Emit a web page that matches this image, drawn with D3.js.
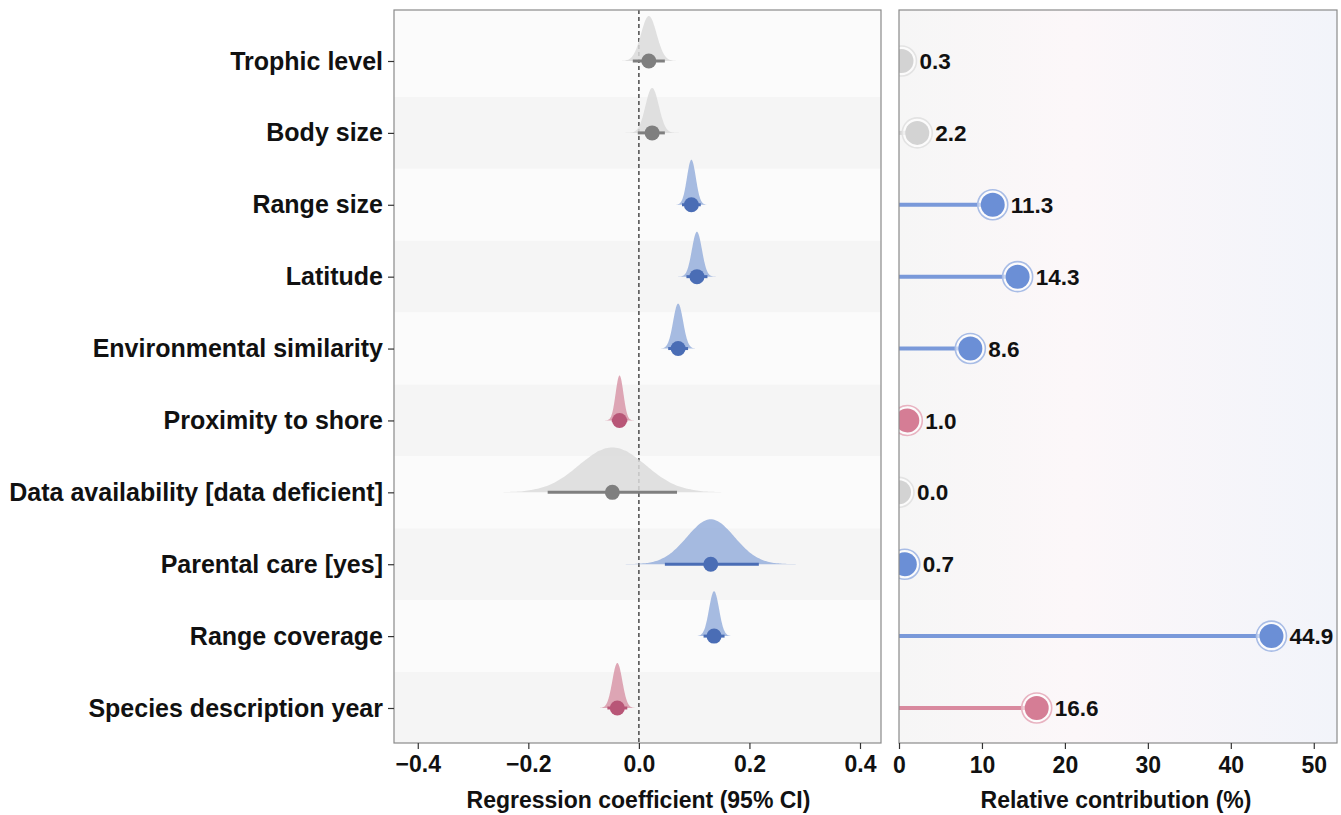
<!DOCTYPE html>
<meta charset="utf-8">
<script src="https://d3js.org/d3.v7.min.js"></script>
<style>
  body { margin: 0; background: #fff; }
  text { font-family: "Liberation Sans", Arial, sans-serif; font-weight: bold; }
</style>
<div id="chart"></div>
<script>

// predictors, top to bottom
var predictors = ["Trophic level", "Body size", "Range size", "Latitude",
  "Environmental similarity", "Proximity to shore", "Data availability [data deficient]",
  "Parental care [yes]", "Range coverage", "Species description year"];

// regression coefficient, 95% CI and sd of the posterior
var coef  = [0.018, 0.024, 0.095, 0.105, 0.071, -0.035, -0.048, 0.130, 0.136, -0.039];
var lower = [-0.011, -0.002, 0.078, 0.086, 0.053, -0.049, -0.165, 0.047, 0.117, -0.057];
var upper = [0.047, 0.047, 0.112, 0.124, 0.089, -0.021, 0.069, 0.217, 0.155, -0.021];
var sdev  = [0.014, 0.012, 0.008, 0.009, 0.009, 0.007, 0.060, 0.043, 0.009, 0.009];

// relative contribution (%)
var contrib = [0.3, 2.2, 11.3, 14.3, 8.6, 1.0, 0.0, 0.7, 44.9, 16.6];

// effect direction
var effect = ["none", "none", "pos", "pos", "pos", "neg", "none", "pos", "pos", "neg"];

var xTicksL = [-0.4, -0.2, 0.0, 0.2, 0.4];
var xTicksR = [0, 10, 20, 30, 40, 50];

var colDens = { none: "#dadada", pos: "#97afdc", neg: "#d897a8" };
var colDot  = { none: "#7f7f7f", pos: "#4a6db5", neg: "#b85677" };
var colLoli = { none: "#d3d3d3", pos: "#6b8fd6", neg: "#d57d95" };
var colRing = { none: "#e3e3e3", pos: "#a9bde6", neg: "#e8b3c1" };

var W = 1341, H = 815;
var svg = d3.select("#chart").append("svg")
  .attr("width", W).attr("height", H);

var yTop = 10, yBot = 743;
var L = { x0: 394, x1: 881 };
var R = { x0: 899, x1: 1337 };

var y = d3.scalePoint().domain(predictors).range([61, 708]);
var step = y.step();
var xL = d3.scaleLinear().domain([-0.443, 0.438]).range([L.x0, L.x1]);
var xR = d3.scaleLinear().domain([0, 52.8]).range([R.x0, R.x1]);

// ---------- left panel ----------
var gL = svg.append("g");

gL.selectAll(".band")
  .data(predictors)
  .enter().append("rect")
    .attr("x", L.x0)
    .attr("y", function(d, i) { return i == 0 ? yTop : y(d) - step / 2; })
    .attr("width", L.x1 - L.x0)
    .attr("height", function(d, i) {
      var y0 = i == 0 ? yTop : y(d) - step / 2;
      var y1 = i == predictors.length - 1 ? yBot : y(d) + step / 2;
      return y1 - y0;
    })
    .attr("fill", function(d, i) { return i % 2 == 0 ? "#fbfbfb" : "#f5f5f5"; });

gL.append("line")
  .attr("x1", xL(0)).attr("x2", xL(0))
  .attr("y1", yTop).attr("y2", yBot)
  .attr("stroke", "#555").attr("stroke-width", 1.6)
  .attr("stroke-dasharray", "4,3");

// half-eye densities
var slabH = 45;
var area = d3.area()
  .curve(d3.curveBasis)
  .x(function(p) { return xL(p[0]); })
  .y0(function(p) { return p[2]; })
  .y1(function(p) { return p[2] - p[1] * slabH; });

predictors.forEach(function(name, i) {
  var pts = [];
  var n = 80;
  for (var k = 0; k <= n; k++) {
    var z = -4 + 8 * k / n;
    pts.push([coef[i] + z * sdev[i], Math.exp(-0.5 * z * z), y(name)]);
  }
  gL.append("path")
    .datum(pts)
    .attr("d", area)
    .attr("fill", colDens[effect[i]])
    .attr("fill-opacity", 0.85);
});

gL.selectAll(".ci")
  .data(predictors)
  .enter().append("line")
    .attr("x1", function(d, i) { return xL(lower[i]); })
    .attr("x2", function(d, i) { return xL(upper[i]); })
    .attr("y1", function(d) { return y(d); })
    .attr("y2", function(d) { return y(d); })
    .attr("stroke", function(d, i) { return colDot[effect[i]]; })
    .attr("stroke-width", 3);

gL.selectAll(".dot")
  .data(predictors)
  .enter().append("circle")
    .attr("cx", function(d, i) { return xL(coef[i]); })
    .attr("cy", function(d) { return y(d); })
    .attr("r", 7.5)
    .attr("fill", function(d, i) { return colDot[effect[i]]; });

gL.append("rect")
  .attr("x", L.x0).attr("y", yTop)
  .attr("width", L.x1 - L.x0).attr("height", yBot - yTop)
  .attr("fill", "none").attr("stroke", "#8a8a8a").attr("stroke-width", 1.2);

var axL = gL.append("g")
  .attr("transform", "translate(0," + yBot + ")")
  .call(d3.axisBottom(xL).tickValues(xTicksL).tickFormat(d3.format(".1f")).tickSize(6).tickSizeOuter(0));
axL.select(".domain").remove();
axL.selectAll("line").attr("stroke", "#333").attr("stroke-width", 1.2);
axL.selectAll("text").attr("font-size", 23).attr("fill", "#111").attr("y", 29).attr("dy", 0);

var ayL = gL.append("g")
  .attr("transform", "translate(" + L.x0 + ",0)")
  .call(d3.axisLeft(y).tickSize(6).tickPadding(5));
ayL.select(".domain").remove();
ayL.selectAll("line").attr("stroke", "#333").attr("stroke-width", 1.2);
ayL.selectAll("text").attr("font-size", 25).attr("fill", "#111");

gL.append("text")
  .attr("x", (L.x0 + L.x1) / 2 + 1).attr("y", 808)
  .attr("text-anchor", "middle").attr("font-size", 23).attr("fill", "#111")
  .text("Regression coefficient (95% CI)");

// ---------- right panel ----------
var gR = svg.append("g");

var defs = svg.append("defs");
var grad = defs.append("linearGradient")
  .attr("id", "bg").attr("x1", "0%").attr("x2", "100%");
grad.append("stop").attr("offset", "0%").attr("stop-color", "#f6f6f6");
grad.append("stop").attr("offset", "40%").attr("stop-color", "#fcf7f9");
grad.append("stop").attr("offset", "100%").attr("stop-color", "#f2f4fa");

defs.append("clipPath").attr("id", "clipR")
  .append("rect")
  .attr("x", R.x0).attr("y", yTop)
  .attr("width", R.x1 - R.x0).attr("height", yBot - yTop);

gR.append("rect")
  .attr("x", R.x0).attr("y", yTop)
  .attr("width", R.x1 - R.x0).attr("height", yBot - yTop)
  .attr("fill", "url(#bg)");

var inner = gR.append("g").attr("clip-path", "url(#clipR)");

inner.selectAll(".stem")
  .data(predictors)
  .enter().append("line")
    .attr("x1", xR(0))
    .attr("x2", function(d, i) { return xR(contrib[i]); })
    .attr("y1", function(d) { return y(d); })
    .attr("y2", function(d) { return y(d); })
    .attr("stroke", function(d, i) { return colLoli[effect[i]]; })
    .attr("stroke-opacity", 0.9)
    .attr("stroke-width", 4);

inner.selectAll(".ring")
  .data(predictors)
  .enter().append("circle")
    .attr("cx", function(d, i) { return xR(contrib[i]); })
    .attr("cy", function(d) { return y(d); })
    .attr("r", 15)
    .attr("fill", "#ffffff").attr("fill-opacity", 0.6)
    .attr("stroke", function(d, i) { return colRing[effect[i]]; })
    .attr("stroke-width", 1.6);

inner.selectAll(".pt")
  .data(predictors)
  .enter().append("circle")
    .attr("cx", function(d, i) { return xR(contrib[i]); })
    .attr("cy", function(d) { return y(d); })
    .attr("r", 12)
    .attr("fill", function(d, i) { return colLoli[effect[i]]; });

gR.selectAll(".val")
  .data(predictors)
  .enter().append("text")
    .attr("x", function(d, i) { return xR(contrib[i]) + 18; })
    .attr("y", function(d) { return y(d); })
    .attr("dy", "0.36em")
    .attr("font-size", 22.5).attr("fill", "#111")
    .text(function(d, i) { return contrib[i].toFixed(1); });

gR.append("rect")
  .attr("x", R.x0).attr("y", yTop)
  .attr("width", R.x1 - R.x0).attr("height", yBot - yTop)
  .attr("fill", "none").attr("stroke", "#8a8a8a").attr("stroke-width", 1.2);

var axR = gR.append("g")
  .attr("transform", "translate(0," + yBot + ")")
  .call(d3.axisBottom(xR).tickValues(xTicksR).tickSize(6).tickSizeOuter(0));
axR.select(".domain").remove();
axR.selectAll("line").attr("stroke", "#333").attr("stroke-width", 1.2);
axR.selectAll("text").attr("font-size", 23).attr("fill", "#111").attr("y", 30).attr("dy", 0);

gR.append("text")
  .attr("x", (R.x0 + R.x1) / 2 - 2).attr("y", 808)
  .attr("text-anchor", "middle").attr("font-size", 23).attr("fill", "#111")
  .text("Relative contribution (%)");

</script>
